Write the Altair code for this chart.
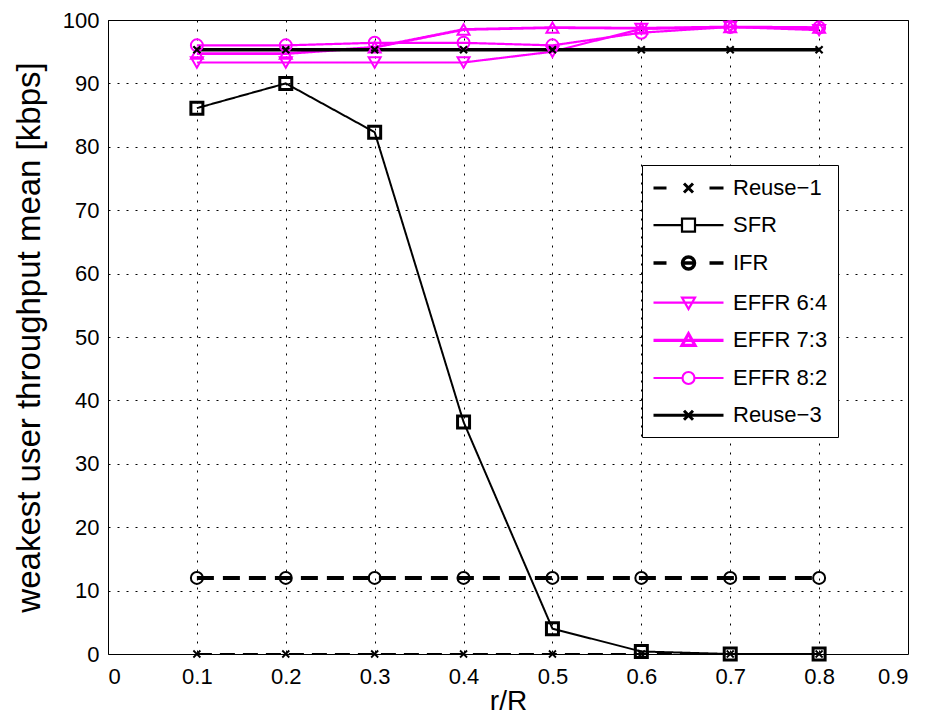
import altair as alt
import pandas as pd

# ---- data ----
r_over_R = [0.1, 0.2, 0.3, 0.4, 0.5, 0.6, 0.7, 0.8]
series_names = ["Reuse\u22121", "SFR", "IFR", "EFFR 6:4", "EFFR 7:3", "EFFR 8:2", "Reuse\u22123"]

reuse1 = [0, 0, 0, 0, 0, 0, 0, 0]
sfr = [86.1, 90.0, 82.3, 36.6, 4.0, 0.4, 0.0, 0.0]
ifr = [12.0, 12.0, 12.0, 12.0, 12.0, 12.0, 12.0, 12.0]
effr64 = [93.3, 93.3, 93.3, 93.3, 95.0, 98.6, 98.9, 98.4]
effr73 = [94.7, 94.7, 95.7, 98.5, 98.8, 98.7, 98.9, 98.8]
effr82 = [96.0, 96.0, 96.4, 96.4, 96.0, 98.0, 98.9, 98.8]
reuse3 = [95.3, 95.3, 95.3, 95.3, 95.3, 95.3, 95.3, 95.3]

x_ticks = [0, 0.1, 0.2, 0.3, 0.4, 0.5, 0.6, 0.7, 0.8, 0.9]
y_ticks = [0, 10, 20, 30, 40, 50, 60, 70, 80, 90, 100]

all_values = [reuse1, sfr, ifr, effr64, effr73, effr82, reuse3]
rows = []
for name, vals in zip(series_names, all_values):
    for xv, yv in zip(r_over_R, vals):
        rows.append({"series": name, "x": xv, "y": yv})
df = pd.DataFrame(rows)
legend_df = pd.DataFrame({"name": series_names})

# ---- styles ----
MAG = "#ff00ff"
colors = ["black", "black", "black", MAG, MAG, MAG, "black"]
line_widths = [2.2, 2, 4, 2.2, 2.8, 2.2, 3.5]
dashes = [[15, 8], [1, 0], [17, 9], [1, 0], [1, 0], [1, 0], [1, 0]]
XPATH = "M-1,-1L1,1M-1,1L1,-1"
marker_shapes = [XPATH, "square", "circle", "triangle-down", "triangle-up", "circle", XPATH]
marker_sizes = [49, 144, 144, 144, 144, 144, 49]
marker_widths = [1.8, 3, 2, 2, 2, 2, 2.2]

# legend symbol paths drawn in pixels, scaled to Vega's unit box
SYM_PX = 23.0          # sqrt(symbolSize)
U = SYM_PX / 2.0


def P(*parts):
    out = []
    for p in parts:
        if isinstance(p, str):
            out.append(p)
        else:
            out.append(f"{p / U:.4f}")
    return "".join(out)


L0, L1, MC, MH = -20, 50, 15, 6.5  # line start/end, marker centre, marker half-size


def hline(a, b):
    return P("M", a, ",0H", b)


def circle(r=6):
    return P("M", MC - r, ",0A", r, ",", r, " 0 1,0 ", MC + r, ",0A", r, ",", r, " 0 1,0 ", MC - r, ",0")


def xmark(h=4.5):
    return P("M", MC - h, ",", -h, "L", MC + h, ",", h, "M", MC - h, ",", h, "L", MC + h, ",", -h)


legend_paths = [
    hline(L0, L0 + 13) + hline(L1 - 14, L1) + xmark(),
    hline(L0, MC - MH) + hline(MC + MH, L1)
    + P("M", MC - MH, ",", -MH, "H", MC + MH, "V", MH, "H", MC - MH, "Z"),
    hline(L0, L0 + 13) + hline(L1 - 14, L1) + hline(MC - 6, MC + 6) + circle(),
    hline(L0, L1) + P("M", MC - 6.5, ",", -5, "H", MC + 6.5, "L", MC, ",", 6.5, "Z"),
    hline(L0, L1) + P("M", MC - 6.5, ",", 5, "H", MC + 6.5, "L", MC, ",", -6.5, "Z"),
    hline(L0, MC - 6) + hline(MC + 6, L1) + circle(),
    hline(L0, L1) + xmark(),
]
legend_widths = [3, 2.2, 3.5, 2.2, 3.2, 2.2, 3]

FONT = "Liberation Sans"


def oscale(rng):
    return alt.Scale(type="ordinal", domain=series_names, range=rng)


x_enc = alt.X("x:Q", scale=alt.Scale(domain=[0, 0.9], nice=False, zero=False),
              axis=alt.Axis(values=x_ticks, format=".1~f", title="r/R"))
y_enc = alt.Y("y:Q", scale=alt.Scale(domain=[0, 100], nice=False),
              axis=alt.Axis(values=y_ticks, format="d",
                            title="weakest user throughput mean [kbps]"))

lines = alt.Chart(df).mark_line().encode(
    x=x_enc, y=y_enc,
    color=alt.Color("series:N", scale=oscale(colors), legend=None),
    strokeWidth=alt.StrokeWidth("series:N", scale=oscale(line_widths), legend=None),
    strokeDash=alt.StrokeDash("series:N", scale=oscale(dashes), legend=None),
    detail="series:N",
)

points = alt.Chart(df).transform_calculate(m="datum.series").mark_point(
    filled=False, opacity=1
).encode(
    x="x:Q", y="y:Q",
    stroke=alt.Stroke("m:N", scale=oscale(colors), legend=None),
    shape=alt.Shape("m:N", scale=oscale(marker_shapes), legend=None),
    size=alt.Size("m:N", scale=oscale(marker_sizes), legend=None),
    strokeWidth=alt.StrokeWidth("m:N", scale=oscale(marker_widths), legend=None),
)

leg = alt.Legend(orient="none", legendX=534, legendY=145, title=None)
legend_layer = alt.Chart(legend_df).mark_point(filled=False, opacity=1).encode(
    shape=alt.Shape("name:N", scale=oscale(legend_paths), legend=leg),
    stroke=alt.Stroke("name:N", scale=oscale(colors), legend=leg),
    strokeWidth=alt.StrokeWidth("name:N", scale=oscale(legend_widths), legend=leg),
).transform_filter("false")

chart = alt.layer(lines, points, legend_layer).resolve_scale(
    color="independent", shape="independent", strokeWidth="independent",
    size="independent", strokeDash="independent", stroke="independent",
).properties(
    width=800, height=634,
    padding={"left": 100, "top": 12, "right": 10, "bottom": 61},
    autosize=alt.AutoSizeParams(type="none"),
    background="white",
).configure_view(
    stroke="black", strokeWidth=1,
).configure_axis(
    domain=False, ticks=False, grid=True, gridColor="black", gridDash=[2, 7],
    gridWidth=1, gridOpacity=1,
    labelFont=FONT, labelColor="black",
    titleFont=FONT, titleFontWeight="normal", titleColor="black",
).configure_axisX(
    labelPadding=12, labelFontSize=22, titleFontSize=28, titlePadding=0,
).configure_axisY(
    labelPadding=9, labelFontSize=22, titleFontSize=33, titlePadding=16,
).configure_legend(
    strokeColor="black", fillColor="white", padding=10, cornerRadius=0,
    labelFont=FONT, labelFontSize=22, labelColor="black",
    symbolSize=SYM_PX * SYM_PX, symbolOffset=8, labelOffset=46, rowPadding=13.2,
)

chart.save("out.html", embed_options={"renderer": "svg", "actions": False})
